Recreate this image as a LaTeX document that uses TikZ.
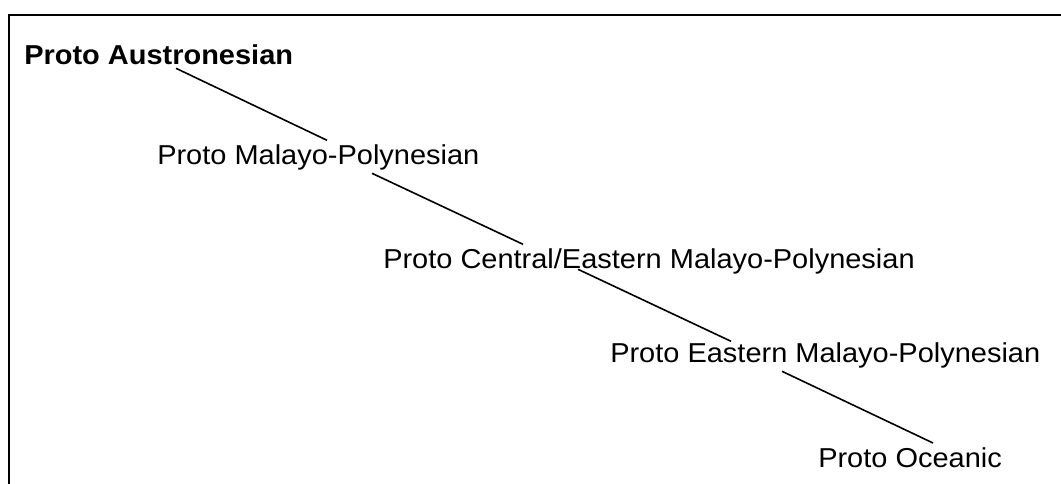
\documentclass[tikz,border=0pt]{standalone}
\usepackage{fontspec}
\setmainfont{Liberation Sans}[FakeStretch=1.06]
\usetikzlibrary{calc}
\begin{document}
\begin{tikzpicture}[x=0.75pt,y=-0.75pt,
  lbl/.style={anchor=base west,inner sep=0pt,font=\fontsize{20.5pt}{23pt}\selectfont},
  conn/.style={line width=1.2pt,black},
  frame/.style={line width=1.8pt,black}]
\useasboundingbox (0,0) rectangle (1061,484);
\draw[frame] (9,484) -- (9,15) -- (1061,15);
\node[lbl,font=\fontsize{20.5pt}{23pt}\selectfont\bfseries] (A) at (24,64.3) {Proto Austronesian};
\node[lbl] (B) at (157,164.3) {Proto Malayo-Polynesian};
\node[lbl] (C) at (383,268.3) {Proto Central/Eastern Malayo-Polynesian};
\node[lbl] (D) at (610,362.3) {Proto Eastern Malayo-Polynesian};
\node[lbl] (E) at (818,468) {Proto Oceanic};
\draw[conn] ($(A.base west)+(152,4)$) -- ($(B.base west)+(170,-24)$);
\draw[conn] ($(B.base west)+(215,9)$) -- ($(C.base west)+(140,-24)$);
\draw[conn] ($(C.base west)+(195,1)$) -- ($(D.base west)+(121,-21)$);
\draw[conn] ($(D.base west)+(172,9)$) -- ($(E.base west)+(115,-25)$);
\end{tikzpicture}
\end{document}
